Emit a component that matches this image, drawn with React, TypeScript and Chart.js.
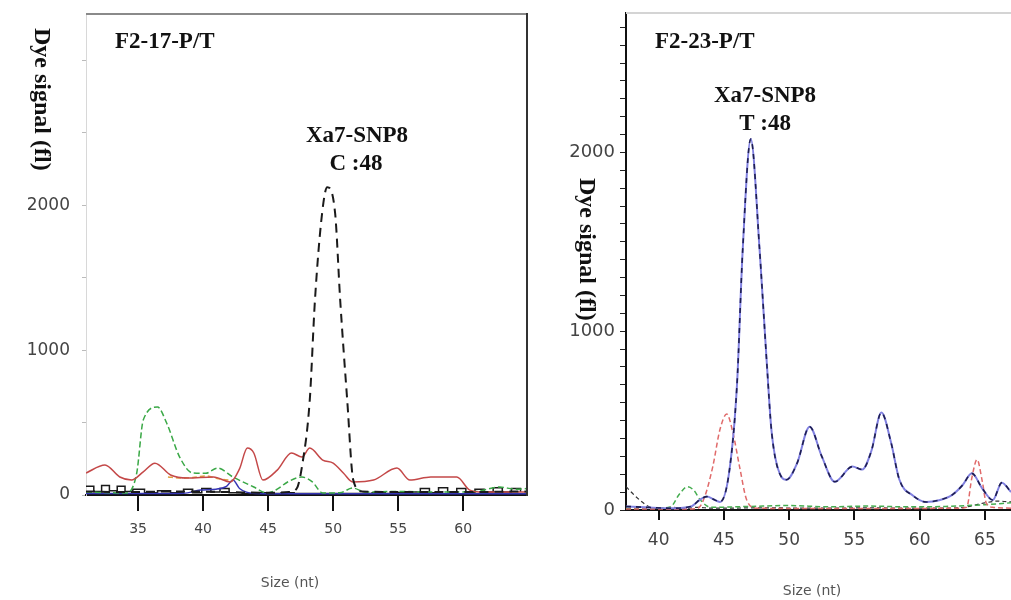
import { useEffect, useRef } from 'react';
import { Chart, registerables } from 'chart.js';
Chart.register(...registerables);

// ---------- Left panel: F2-17-P/T ----------
const leftXTicks = [35, 40, 45, 50, 55, 60];
const leftYTicks = [0, 500, 1000, 1500, 2000, 2500, 3000];
const leftYLabels = [0, 1000, 2000];

const leftBlackSize = [31, 34, 38, 42, 45, 46.6, 47.2, 47.6, 48.2, 48.6, 49.15, 49.54, 50.15, 50.54, 51.08, 51.54, 52.2, 56, 60, 64.9];
const leftBlackSignal = [25, 20, 25, 20, 15, 20, 45, 195, 655, 1345, 1945, 2125, 1945, 1345, 655, 105, 25, 20, 20, 25];

const leftBaseSize = [31, 31.6, 32.2, 32.8, 33.4, 34, 34.6, 35.5, 36.5, 37.5, 38.5, 39.2, 39.9, 40.6, 41.3, 42, 43, 44, 45, 46, 47, 48, 49, 50, 51, 52, 53, 54, 55, 56, 56.7, 57.4, 58.1, 58.8, 59.5, 60.2, 60.9, 61.6, 62.3, 63, 63.7, 64.4];
const leftBaseSignal = [60, 25, 65, 30, 60, 25, 40, 15, 30, 15, 40, 15, 45, 20, 45, 15, 10, 15, 10, 15, 10, 10, 10, 10, 10, 10, 15, 10, 15, 20, 45, 15, 50, 20, 45, 15, 40, 20, 50, 20, 45, 20];

const leftRedSize = [31, 32.46, 33.6, 34.5, 35.4, 36.3, 37.5, 38.8, 40.8, 42.1, 42.8, 43.4, 43.9, 44.6, 45.7, 46.8, 47.6, 48.2, 49.2, 50.0, 50.8, 51.5, 53.1, 54.9, 55.9, 57.5, 59.5, 60.5, 61.5, 64.9];
const leftRedSignal = [152, 207, 124, 103, 160, 220, 138, 117, 124, 90, 180, 324, 290, 103, 172, 290, 262, 324, 241, 220, 150, 90, 103, 186, 103, 124, 124, 34, 20, 20];

const leftGreenSize = [31, 34.1, 34.9, 35.4, 36.5, 37.2, 38.2, 39.2, 40.2, 41.1, 42.3, 43.9, 44.9, 45.7, 46.5, 47.6, 48.4, 49.2, 50.5, 51.5, 52.5, 55, 58, 61, 62.8, 64, 64.9];
const leftGreenSignal = [20, 14, 152, 517, 607, 497, 262, 152, 150, 186, 124, 55, 14, 40, 90, 124, 90, 14, 15, 48, 20, 25, 20, 25, 55, 40, 45];

const leftBlueSize = [31, 36, 38.5, 39.8, 41, 41.8, 42.3, 42.8, 44, 48, 55, 64.9];
const leftBlueSignal = [10, 10, 12, 34, 40, 60, 103, 45, 10, 8, 8, 8];

const leftOrangeSize = [37.3, 38.2, 39.2, 40.2, 41.2, 42.3];
const leftOrangeSignal = [125, 118, 120, 132, 112, 100];

// ---------- Right panel: F2-23-P/T ----------
const rightXTicks = [40, 45, 50, 55, 60, 65];
const rightYTicks = [0, 100, 200, 300, 400, 500, 600, 700, 800, 900, 1000, 1100, 1200, 1300, 1400, 1500, 1600, 1700, 1800, 1900, 2000, 2100, 2200, 2300, 2400, 2500, 2600, 2700];
const rightYLabels = [0, 1000, 2000];

const rightBlueSize = [37.5, 39, 41, 42.5, 43.2, 43.7, 44.2, 44.7, 45.4, 46.0, 46.44, 47.06, 47.74, 48.3, 48.66, 49.4, 49.8, 50.6, 51.57, 52.5, 53.5, 54.85, 55.6, 56.3, 57.07, 57.8, 58.45, 59.5, 60.5, 61.5, 62.5, 63.3, 64.0, 64.8, 65.6, 66.3, 67];
const rightBlueSignal = [20, 15, 10, 20, 60, 75, 60, 45, 209, 695, 1452, 2075, 1452, 808, 435, 186, 169, 260, 466, 300, 158, 243, 226, 330, 545, 380, 169, 80, 45, 55, 85, 140, 205, 120, 56, 153, 100];

const rightRedSize = [37.5, 42, 43, 43.5, 44.15, 44.7, 45.22, 45.7, 46.2, 46.75, 47.5, 52, 58, 63, 63.6, 64.0, 64.4, 64.8, 65.1, 65.6, 67];
const rightRedSignal = [5, 5, 10, 68, 243, 450, 537, 430, 243, 56, 10, 8, 8, 10, 15, 180, 282, 160, 40, 15, 10];

const rightGreenSize = [37.5, 40.2, 40.9, 41.6, 42.2, 42.7, 43.2, 44, 47, 50, 53, 56, 59, 62, 65, 67];
const rightGreenSignal = [10, 12, 17, 90, 130, 110, 56, 15, 20, 25, 18, 22, 18, 20, 30, 40];

const rightBlackSize = [37.5, 38.4, 39.3, 40, 41, 42, 43, 44, 48, 52, 56, 60, 63, 65, 66, 67];
const rightBlackSignal = [130, 65, 17, 8, 15, 8, 15, 10, 12, 10, 12, 10, 12, 40, 50, 45];

const pts = (xs: number[], ys: number[]) => xs.map((x, i) => ({ x, y: ys[i] }));

type Ann = { text: string; x: number; y: number; align: CanvasTextAlign; font: string; color: string; rotate?: boolean };
type Line = { x1: number; y1: number; x2: number; y2: number; color: string; width: number };

const serif = 'bold 23px "Liberation Serif", "Times New Roman", serif';
const serifY = 'bold 24px "Liberation Serif", "Times New Roman", serif';
const sansT = '14px "DejaVu Sans", sans-serif';

function line(data: any, color: string, width: number, dash: number[] = [], extra: any = {}) {
  return {
    data,
    borderColor: color,
    borderWidth: width,
    borderDash: dash,
    pointRadius: 0,
    fill: false,
    cubicInterpolationMode: 'monotone',
    ...extra,
  };
}

function Panel(props: {
  left: number; width: number; datasets: any[]; xMin: number; xMax: number; yMax: number;
  xTicks: number[]; yTicks: number[]; yLabels: number[]; padding: any;
  xTickLen: number; xFont: number; xPad: number; yFont: number; yPad: number; yTickLen: number;
  yBorder: string; yGrid: string; anns: Ann[]; lines: Line[];
}) {
  const ref = useRef<HTMLCanvasElement>(null);
  useEffect(() => {
    const p = props;
    const annPlugin = {
      id: 'ann',
      afterDraw(chart: any) {
        const ctx = chart.ctx as CanvasRenderingContext2D;
        ctx.save();
        for (const l of p.lines) {
          ctx.strokeStyle = l.color;
          ctx.lineWidth = l.width;
          ctx.beginPath();
          ctx.moveTo(l.x1 - p.left, l.y1);
          ctx.lineTo(l.x2 - p.left, l.y2);
          ctx.stroke();
        }
        for (const a of p.anns) {
          ctx.font = a.font;
          ctx.fillStyle = a.color;
          ctx.textAlign = a.align;
          ctx.textBaseline = 'alphabetic';
          if (a.rotate) {
            ctx.save();
            ctx.translate(a.x - p.left, a.y);
            ctx.rotate(Math.PI / 2);
            ctx.fillText(a.text, 0, 0);
            ctx.restore();
          } else {
            ctx.fillText(a.text, a.x - p.left, a.y);
          }
        }
        ctx.restore();
      },
    };
    const chart = new Chart(ref.current!, {
      type: 'line',
      data: { datasets: p.datasets },
      plugins: [annPlugin],
      options: {
        animation: false,
        responsive: false,
        layout: { padding: p.padding },
        plugins: { legend: { display: false }, tooltip: { enabled: false } },
        scales: {
          x: {
            type: 'linear',
            min: p.xMin,
            max: p.xMax,
            afterBuildTicks: (s: any) => { s.ticks = p.xTicks.map((v) => ({ value: v })); },
            afterFit: (s: any) => { s.height = 60; s.paddingLeft = 0; s.paddingRight = 0; },
            ticks: {
              autoSkip: false, maxRotation: 0, padding: p.xPad, color: '#444',
              font: { family: '"DejaVu Sans", sans-serif', size: p.xFont },
              callback: (v: any) => String(v),
            },
            grid: { drawOnChartArea: false, tickLength: p.xTickLen, color: '#111', lineWidth: 2 },
            border: { color: '#111', width: 2 },
          },
          y: {
            type: 'linear',
            min: 0,
            max: p.yMax,
            afterBuildTicks: (s: any) => { s.ticks = p.yTicks.map((v) => ({ value: v })); },
            afterFit: (s: any) => { s.width = 86; s.paddingTop = 0; s.paddingBottom = 0; },
            ticks: {
              autoSkip: false, padding: p.yPad, color: '#444',
              font: { family: '"DejaVu Sans", sans-serif', size: p.yFont },
              callback: (v: any) => (p.yLabels.includes(Number(v)) ? String(v) : ''),
            },
            grid: { drawOnChartArea: false, tickLength: p.yTickLen, color: p.yGrid, lineWidth: 1 },
            border: { color: p.yBorder, width: p.yBorder === '#111' ? 2 : 1 },
          },
        },
      } as any,
    });
    return () => chart.destroy();
  }, []);
  return (
    <canvas
      ref={ref}
      width={props.width}
      height={600}
      style={{ position: 'absolute', left: props.left, top: 0, width: props.width, height: 600 }}
    />
  );
}

export default function App() {
  // Chart.js draws the first dataset on top, so the top-most trace comes first.
  const leftDatasets = [
    line(pts(leftBlackSize, leftBlackSignal), '#1a1a1a', 2, [9, 6]),
    line(pts(leftRedSize, leftRedSignal), '#c44848', 1.5),
    line(pts(leftGreenSize, leftGreenSignal), '#3aa846', 1.5, [6, 3]),
    line(pts(leftOrangeSize, leftOrangeSignal), '#e0a040', 1.5, [5, 3]),
    line(pts(leftBlueSize, leftBlueSignal), '#3535b5', 1.5),
    line(pts(leftBaseSize, leftBaseSignal), '#1a1a1a', 1.5, [], { stepped: true, cubicInterpolationMode: 'default' }),
  ];
  const rightDatasets = [
    line(pts(rightBlueSize, rightBlueSignal), '#1e1e50', 1.6, [5, 5]),
    line(pts(rightBlueSize, rightBlueSignal), '#8080e0', 2),
    line(pts(rightRedSize, rightRedSignal), '#e06a6a', 1.5, [5, 3]),
    line(pts(rightGreenSize, rightGreenSignal), '#45ad4f', 1.5, [5, 3]),
    line(pts(rightBlackSize, rightBlackSignal), '#333333', 1.2, [4, 3]),
  ];
  const leftAnns: Ann[] = [
    { text: 'F2-17-P/T', x: 115, y: 48, align: 'left', font: serif, color: '#111' },
    { text: 'Xa7-SNP8', x: 357, y: 142, align: 'center', font: serif, color: '#111' },
    { text: 'C :48', x: 356, y: 170, align: 'center', font: serif, color: '#111' },
    { text: 'Dye signal (fl)', x: 35, y: 28, align: 'left', font: serifY, color: '#111', rotate: true },
    { text: 'Size (nt)', x: 290, y: 587, align: 'center', font: sansT, color: '#555' },
  ];
  const rightAnns: Ann[] = [
    { text: 'F2-23-P/T', x: 655, y: 48, align: 'left', font: serif, color: '#111' },
    { text: 'Xa7-SNP8', x: 765, y: 102, align: 'center', font: serif, color: '#111' },
    { text: 'T :48', x: 765, y: 130, align: 'center', font: serif, color: '#111' },
    { text: 'Dye signal (fl)', x: 580, y: 178, align: 'left', font: serifY, color: '#111', rotate: true },
    { text: 'Size (nt)', x: 812, y: 595, align: 'center', font: sansT, color: '#555' },
  ];
  const leftLines: Line[] = [
    { x1: 86, y1: 14, x2: 528, y2: 14, color: '#8a8a8a', width: 2 },
    { x1: 527, y1: 13, x2: 527, y2: 496, color: '#333', width: 2 },
  ];
  const rightLines: Line[] = [
    { x1: 626, y1: 13, x2: 1011, y2: 13, color: '#d4d4d4', width: 2 },
  ];
  return (
    <div style={{ position: 'absolute', left: 0, top: 0, width: 1011, height: 600, background: '#fff', overflow: 'hidden' }}>
      <Panel
        left={0} width={540} datasets={leftDatasets} xMin={31} xMax={64.9} yMax={3320}
        xTicks={leftXTicks} yTicks={leftYTicks} yLabels={leftYLabels}
        padding={{ left: 0, top: 14, right: 13, bottom: 45 }}
        xTickLen={16} xFont={14} xPad={10} yFont={17} yPad={12} yTickLen={4}
        yBorder="#d8d8d8" yGrid="#bbbbbb" anns={leftAnns} lines={leftLines}
      />
      <Panel
        left={540} width={471} datasets={rightDatasets} xMin={37.5} xMax={67} yMax={2780}
        xTicks={rightXTicks} yTicks={rightYTicks} yLabels={rightYLabels}
        padding={{ left: 0, top: 13, right: 0, bottom: 30 }}
        xTickLen={10} xFont={17} xPad={10} yFont={18} yPad={5} yTickLen={6}
        yBorder="#111" yGrid="#222" anns={rightAnns} lines={rightLines}
      />
    </div>
  );
}
